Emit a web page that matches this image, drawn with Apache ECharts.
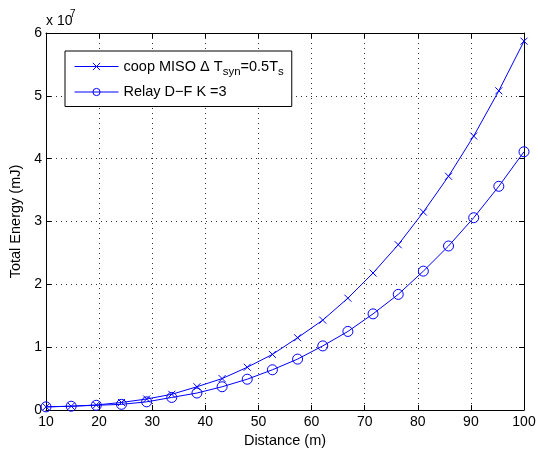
<!DOCTYPE html>
<html>
<head>
<meta charset="utf-8">
<script src="https://cdn.jsdelivr.net/npm/echarts@6/dist/echarts.min.js"></script>
<style>html,body{margin:0;padding:0;background:#fff;}#c{width:538px;height:449px;}</style>
</head>
<body>
<div id="c"></div>
<script>
var distance = [10, 14.74, 19.47, 24.21, 28.95, 33.68, 38.42, 43.16, 47.89, 52.63, 57.37, 62.11, 66.84, 71.58, 76.32, 81.05, 85.79, 90.53, 95.26, 100];
var coopMISO = [0.05, 0.06, 0.08, 0.12, 0.175, 0.25, 0.37, 0.50, 0.68, 0.885, 1.15, 1.43, 1.78, 2.18, 2.63, 3.15, 3.72, 4.36, 5.08, 5.87];
var relayDF = [0.05, 0.06, 0.075, 0.09, 0.13, 0.20, 0.27, 0.37, 0.49, 0.64, 0.81, 1.02, 1.25, 1.53, 1.84, 2.21, 2.61, 3.06, 3.56, 4.11];
var scale = 1e7;
var seriesNames = ['coop MISO', 'Relay D-F'];
var xTicks = [10, 20, 30, 40, 50, 60, 70, 80, 90, 100];
var yTicks = [0, 1, 2, 3, 4, 5, 6];

var FONT = 'Liberation Sans, Arial, Helvetica, sans-serif';
function pairs(vals) { return distance.map(function (d, i) { return [d, vals[i] * scale]; }); }

var chart = echarts.init(document.getElementById('c'), null, {renderer: 'canvas'});
var baseX = {
  type: 'value', min: xTicks[0], max: xTicks[xTicks.length - 1], interval: 10,
  axisLine: {show: true, onZero: false, lineStyle: {color: '#000', width: 1}},
  axisTick: {show: true, inside: true, length: 5, lineStyle: {color: '#000'}},
  splitLine: {show: false}
};
var baseY = {
  type: 'value', min: yTicks[0] * scale, max: yTicks[yTicks.length - 1] * scale, interval: scale,
  axisLine: {show: true, onZero: false, lineStyle: {color: '#000', width: 1}},
  axisTick: {show: true, inside: true, length: 5, lineStyle: {color: '#000'}},
  splitLine: {show: false}
};
var option = {
  animation: false,
  backgroundColor: '#fff',
  textStyle: {fontFamily: FONT},
  grid: {left: 46, right: 14, top: 33, bottom: 39, show: false, containLabel: false, outerBoundsMode: 'none'},
  xAxis: [
    Object.assign({}, baseX, {
      position: 'bottom',
      name: 'Distance (m)', nameLocation: 'middle', nameGap: 20,
      nameTextStyle: {fontFamily: FONT, fontSize: 14.5, color: '#000'},
      axisLabel: {color: '#000', fontSize: 14, fontFamily: FONT, margin: 5},
      splitLine: {show: true, lineStyle: {color: '#333', type: [1, 4], width: 1}}
    }),
    Object.assign({}, baseX, {position: 'top', axisLabel: {show: false}})
  ],
  yAxis: [
    Object.assign({}, baseY, {
      position: 'left',
      name: 'Total Energy (mJ)', nameLocation: 'middle', nameGap: 17,
      nameTextStyle: {fontFamily: FONT, fontSize: 14.5, color: '#000'},
      axisLabel: {color: '#000', fontSize: 14, fontFamily: FONT, margin: 4,
        formatter: function (v) { return String(Math.round(v / scale)); }},
      splitLine: {show: true, lineStyle: {color: '#333', type: [1, 4], width: 1}}
    }),
    Object.assign({}, baseY, {position: 'right', axisLabel: {show: false}})
  ],
  legend: {
    orient: 'vertical', left: 65, top: 51,
    padding: [8, 8, 7, 9],
    itemWidth: 44, itemHeight: 9, itemGap: 7,
    backgroundColor: '#fff', borderColor: '#000', borderWidth: 1,
    data: seriesNames,
    lineStyle: {width: 1},
    itemStyle: {borderWidth: 1},
    textStyle: {
      fontFamily: FONT, fontSize: 14.5, color: '#000',
      rich: {
        n: {fontFamily: FONT, fontSize: 14.5, color: '#000'},
        sub: {fontFamily: FONT, fontSize: 11.5, color: '#000', padding: [10, 0, 0, 0]}
      }
    },
    formatter: function (name) {
      if (name === seriesNames[0]) return '{n|coop MISO \u0394 T}{sub|syn}{n|=0.5T}{sub|s}';
      return '{n|Relay D\u2212F K =3}';
    }
  },
  graphic: [
    {type: 'text', left: 46, top: 14, style: {text: 'x 10', font: '14px ' + FONT, fill: '#000'}},
    {type: 'text', left: 70, top: 9, style: {text: '7', font: '10px ' + FONT, fill: '#000'}}
  ],
  series: [
    {
      name: seriesNames[0], type: 'line', data: pairs(coopMISO),
      symbol: 'path://M0,0L10,10M10,0L0,10', symbolSize: 7, showAllSymbol: true,
      lineStyle: {color: '#0000ff', width: 1},
      itemStyle: {color: 'transparent', borderColor: '#0000ff', borderWidth: 1},
      color: '#0000ff'
    },
    {
      name: seriesNames[1], type: 'line', data: pairs(relayDF),
      symbol: 'circle', symbolSize: 10, showAllSymbol: true,
      lineStyle: {color: '#0000ff', width: 1},
      itemStyle: {color: 'transparent', borderColor: '#0000ff', borderWidth: 1},
      color: '#0000ff'
    }
  ]
};
chart.setOption(option);
</script>
</body>
</html>
